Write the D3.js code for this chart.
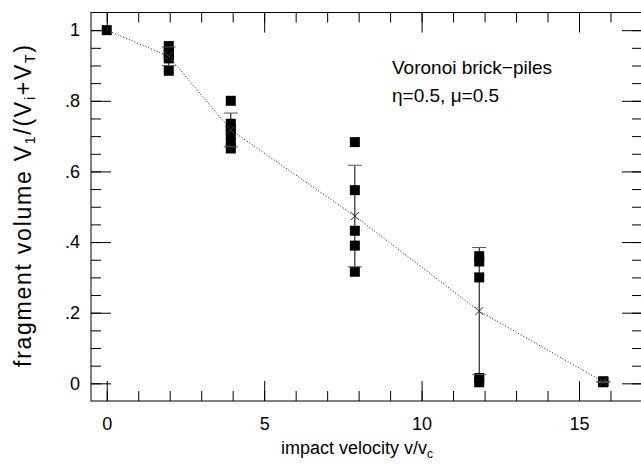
<!DOCTYPE html>
<html>
<head>
<meta charset="utf-8">
<script src="https://cdn.jsdelivr.net/npm/d3@7"></script>
<style>
  body { margin: 0; background: #fff; }
  svg { display: block; font-family: "Liberation Sans", Arial, sans-serif; }
  .axis text { font-size: 18px; fill: #000; }
  .axis line { stroke: #000; }
</style>
</head>
<body>
<div id="chart"></div>
<script>
//impact velocities v/vc of the six groups of runs
var velocity = [0, 1.97, 3.94, 7.88, 11.83, 15.77];

//fragment volumes of the single runs, one array per velocity
var runsV0 = [1.0];
var runsV2 = [0.955, 0.94, 0.93, 0.92, 0.885];
var runsV4 = [0.80, 0.735, 0.72, 0.705, 0.68, 0.665];
var runsV8 = [0.683, 0.547, 0.432, 0.39, 0.316];
var runsV12 = [0.36, 0.345, 0.30, 0.015, 0.003];
var runsV16 = [0.006, 0.004, 0.003];
var runs = [runsV0, runsV2, runsV4, runsV8, runsV12, runsV16];

//tick values and labels
var xMajor = [0, 5, 10, 15];
var xMajorLabels = ["0", "5", "10", "15"];
var xMinor = d3.range(0, 17, 1);
var yMajor = [0, 0.2, 0.4, 0.6, 0.8, 1];
var yMajorLabels = ["0", ".2", ".4", ".6", ".8", "1"];
var yMinor = d3.range(0, 21).map(function(i) { return i * 0.05; });

var width = 641, height = 464;
var plotLeft = 91, plotRight = 642, plotTop = 12.5, plotBottom = 401;

//scales
var x = d3.scaleLinear().domain([-0.5, 17]).range([plotLeft, plotRight]);
var y = d3.scaleLinear().domain([-0.05, 1.05]).range([plotBottom, plotTop]);

var svg = d3.select("#chart").append("svg")
    .attr("width", width)
    .attr("height", height);

//axes, ticks pointing inwards on all four sides
function addAxis(axis, tx, ty) {
  var g = svg.append("g")
     .attr("class", "axis")
     .attr("transform", "translate(" + tx + "," + ty + ")")
     .call(axis);
  g.select(".domain").remove();
  return g;
}
addAxis(d3.axisBottom(x).tickValues(xMajor).tickSize(-20).tickPadding(16)
   .tickFormat(function(d, i) { return xMajorLabels[i]; }), 0, plotBottom);
addAxis(d3.axisBottom(x).tickValues(xMinor).tickSize(-10).tickFormat(""), 0, plotBottom);
addAxis(d3.axisTop(x).tickValues(xMajor).tickSize(-20).tickFormat(""), 0, plotTop);
addAxis(d3.axisTop(x).tickValues(xMinor).tickSize(-10).tickFormat(""), 0, plotTop);
addAxis(d3.axisLeft(y).tickValues(yMajor).tickSize(-20).tickPadding(11)
   .tickFormat(function(d, i) { return yMajorLabels[i]; }), plotLeft, 0);
addAxis(d3.axisLeft(y).tickValues(yMinor).tickSize(-10).tickFormat(""), plotLeft, 0);
addAxis(d3.axisRight(y).tickValues(yMajor).tickSize(-20).tickFormat(""), plotRight, 0);
addAxis(d3.axisRight(y).tickValues(yMinor).tickSize(-10).tickFormat(""), plotRight, 0);

//frame
svg.append("rect")
   .attr("x", plotLeft).attr("y", plotTop)
   .attr("width", plotRight - plotLeft).attr("height", plotBottom - plotTop)
   .attr("fill", "none").attr("stroke", "#000");

//mean and spread of each group
var stats = runs.map(function(r, i) {
  return { v: velocity[i], mean: d3.mean(r), sd: r.length > 1 ? d3.deviation(r) : 0, n: r.length };
});

//dotted line through the means
var meanline = d3.line()
   .x(function(d) { return x(d.v); })
   .y(function(d) { return y(d.mean); });
svg.append("path")
   .datum(stats)
   .attr("d", meanline)
   .attr("fill", "none")
   .attr("stroke", "#111")
   .attr("stroke-width", 1)
   .attr("stroke-dasharray", "1,2");

//single runs as filled squares
runs.forEach(function(r, i) {
  svg.append("g").selectAll("rect")
     .data(r)
     .join("rect")
       .attr("x", x(velocity[i]) - 5)
       .attr("y", function(d) { return y(d) - 5; })
       .attr("width", 10)
       .attr("height", 10)
       .attr("fill", "#000");
});

//error bars and x marks
var bars = svg.append("g").attr("stroke", "#000").attr("stroke-width", 1);
stats.filter(function(d) { return d.n > 1; }).forEach(function(d) {
  var cx = x(d.v);
  bars.append("line").attr("x1", cx).attr("x2", cx)
     .attr("y1", y(d.mean - d.sd)).attr("y2", y(d.mean + d.sd));
  [d.mean - d.sd, d.mean + d.sd].forEach(function(e) {
    bars.append("line").attr("x1", cx - 7).attr("x2", cx + 7)
       .attr("y1", y(e)).attr("y2", y(e)).attr("stroke", "#555");
  });
  var cy = y(d.mean);
  bars.append("path")
     .attr("d", "M" + (cx - 4) + "," + (cy - 4) + "L" + (cx + 4) + "," + (cy + 4) +
                "M" + (cx - 4) + "," + (cy + 4) + "L" + (cx + 4) + "," + (cy - 4))
     .attr("stroke", "#333");
});

//annotation
svg.append("text")
   .attr("x", 392).attr("y", 74)
   .attr("font-size", 19)
   .text("Voronoi brick\u2212piles");
svg.append("text")
   .attr("x", 392).attr("y", 102)
   .attr("font-size", 19)
   .text("\u03b7=0.5, \u03bc=0.5");

//axis titles
var xt = svg.append("text")
   .attr("x", 357).attr("y", 454)
   .attr("text-anchor", "middle")
   .attr("font-size", 18);
xt.append("tspan").text("impact velocity v/v");
xt.append("tspan").attr("font-size", 12).attr("dy", 4).text("c");

var yt = svg.append("text")
   .attr("transform", "translate(31,206) rotate(-90)")
   .attr("text-anchor", "middle")
   .attr("font-size", 23)
   .attr("textLength", 322)
   .attr("lengthAdjust", "spacing");
yt.append("tspan").text("fragment volume V");
yt.append("tspan").attr("font-size", 14).attr("dy", 4).text("1");
yt.append("tspan").attr("dy", -4).text("/(V");
yt.append("tspan").attr("font-size", 14).attr("dy", 4).text("i");
yt.append("tspan").attr("dy", -4).text("+V");
yt.append("tspan").attr("font-size", 14).attr("dy", 4).text("T");
yt.append("tspan").attr("dy", -4).text(")");
</script>
</body>
</html>
